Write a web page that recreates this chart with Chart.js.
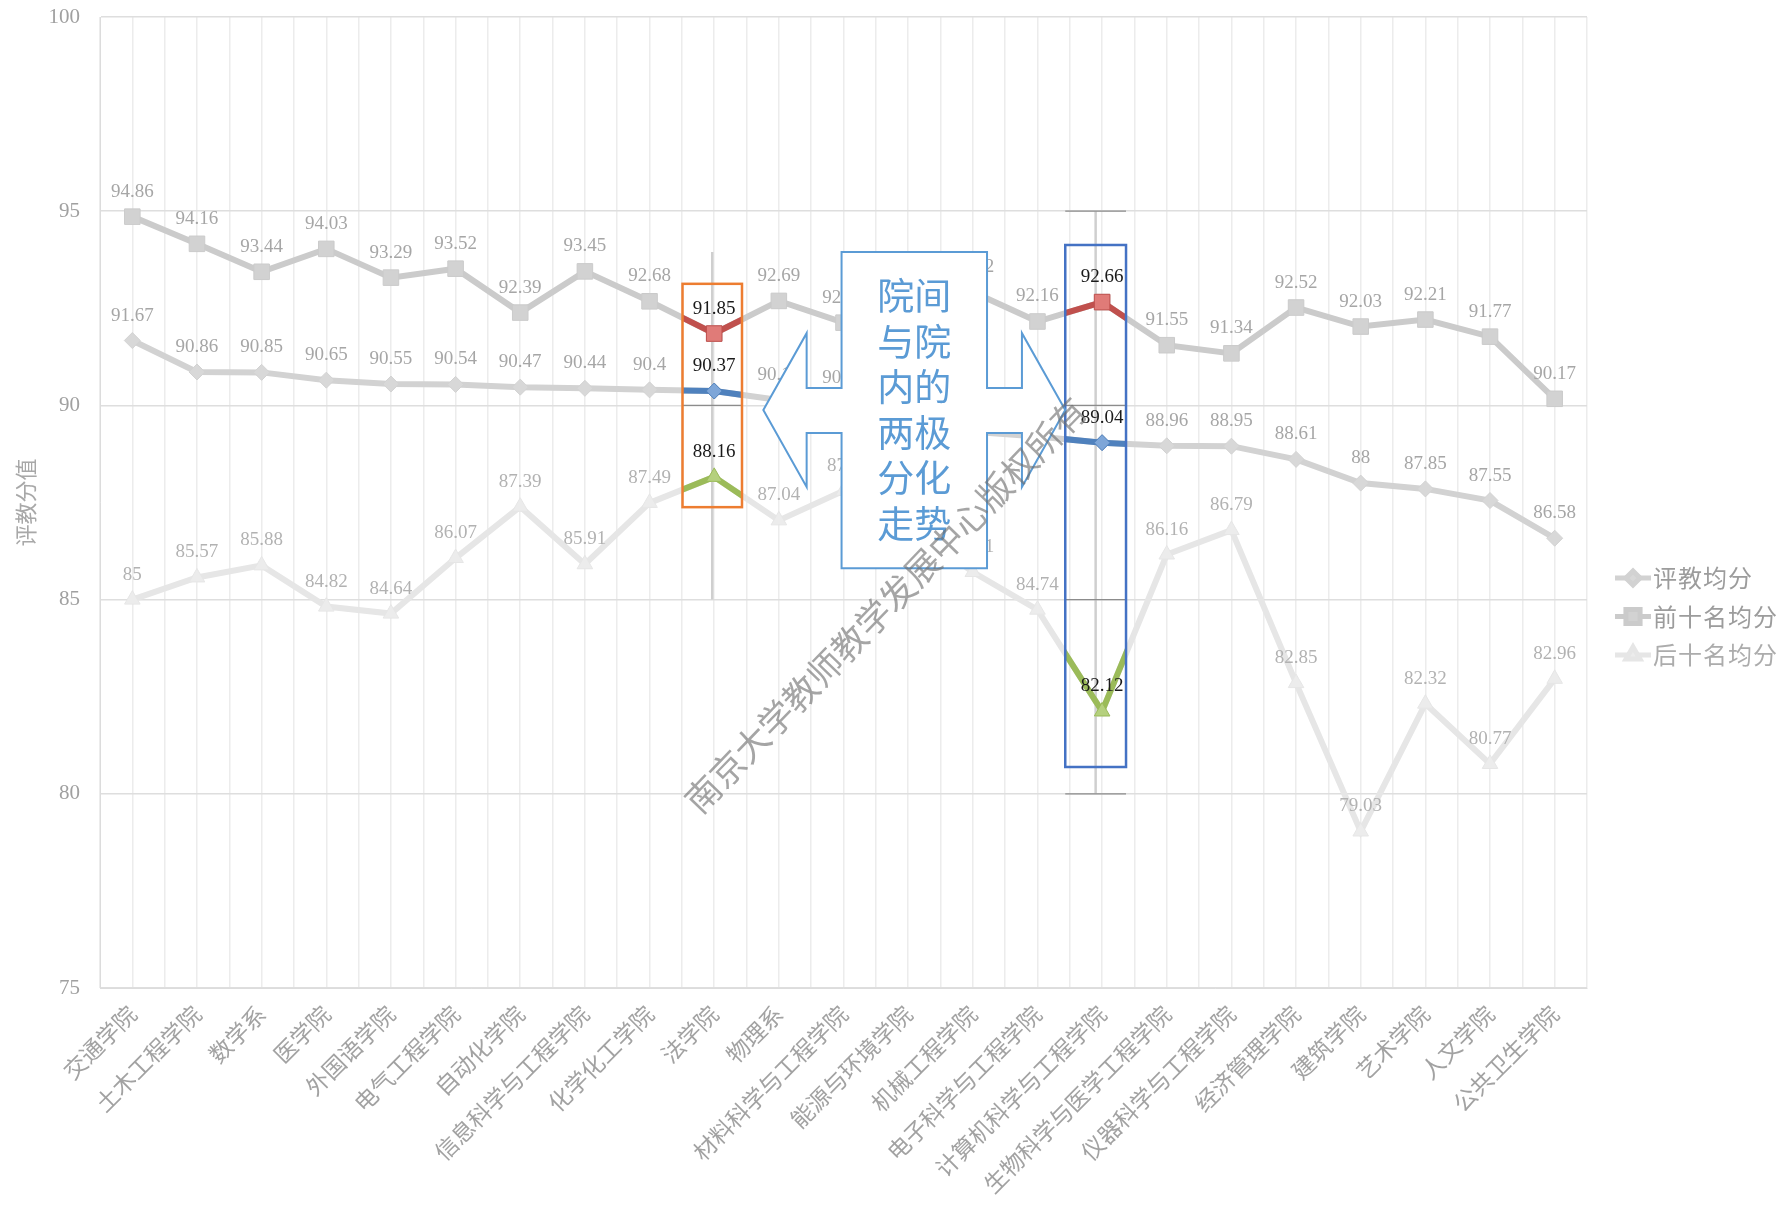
<!DOCTYPE html>
<html>
<head>
<meta charset="utf-8">
<script src="https://cdn.jsdelivr.net/npm/chart.js@4.4.1/dist/chart.umd.min.js"></script>
<style>
  html, body { margin: 0; padding: 0; background: #fff; }
  #wrap { width: 1781px; height: 1223px; position: relative; }
</style>
</head>
<body>
<div id="wrap"><canvas id="chart"></canvas></div>
<script>
// 各学院评教分数
const colleges = ['交通学院', '土木工程学院', '数学系', '医学院', '外国语学院', '电气工程学院', '自动化学院',
    '信息科学与工程学院', '化学化工学院', '法学院', '物理系', '材料科学与工程学院', '能源与环境学院',
    '机械工程学院', '电子科学与工程学院', '计算机科学与工程学院', '生物科学与医学工程学院',
    '仪器科学与工程学院', '经济管理学院', '建筑学院', '艺术学院', '人文学院', '公共卫生学院'];
const avgScores = [91.67, 90.86, 90.85, 90.65, 90.55, 90.54, 90.47, 90.44, 90.4, 90.37, 90.14, 90.05,
    89.72, 89.32, 89.2, 89.04, 88.96, 88.95, 88.61, 88, 87.85, 87.55, 86.58];
const topTenScores = [94.86, 94.16, 93.44, 94.03, 93.29, 93.52, 92.39, 93.45, 92.68, 91.85, 92.69, 92.13,
    92.55, 92.92, 92.16, 92.66, 91.55, 91.34, 92.52, 92.03, 92.21, 91.77, 90.17];
const bottomTenScores = [85, 85.57, 85.88, 84.82, 84.64, 86.07, 87.39, 85.91, 87.49, 88.16, 87.04, 87.8,
    86.9, 85.71, 84.74, 82.12, 86.16, 86.79, 82.85, 79.03, 82.32, 80.77, 82.96];
const seriesNames = ['评教均分', '前十名均分', '后十名均分'];
const yTicks = [75, 80, 85, 90, 95, 100];

// annotations (category index / score units)
const highlights = [
    { index: 9, shift: -0.03, halfWidth: 0.46, top: 93.13, bottom: 87.38, color: '#ED7D31', gridFrom: 93.95, gridTo: 85, hLines: [90] },
    { index: 15, shift: -0.1, halfWidth: 0.47, top: 94.13, bottom: 80.69, color: '#4472C4', gridFrom: 95, gridTo: 80, hLines: [95, 90, 85, 80] }
];
const highlightLine = ['#4F81BD', '#C0504D', '#9BBB59'];
const highlightFill = ['#7EA6D8', '#E07B78', '#B5D07E'];
const calloutLines = ['院间', '与院', '内的', '两极', '分化', '走势'];
const watermark = '南京大学教师教学发展中心版权所有';

const greyLine = ['#d2d2d2', '#cbcbcb', '#e6e6e6'];
const greyPoint = ['#d8d8d8', '#d2d2d2', '#ececec'];
const labelGrey = ['#a6a6a6', '#a6a6a6', '#b2b2b2'];

function makeSeries(i, data, style, radius) {
    return {
        label: seriesNames[i],
        data: data,
        borderColor: greyLine[i],
        backgroundColor: greyPoint[i],
        pointBackgroundColor: greyPoint[i],
        pointBorderColor: greyLine[i],
        pointBorderWidth: 1,
        pointStyle: style,
        pointRadius: radius,
        borderWidth: 6,
        tension: 0,
        order: 3 - i
    };
}

const pointLabels = {
    id: 'pointLabels',
    afterDatasetsDraw(chart) {
        const ctx = chart.ctx;
        ctx.save();
        ctx.font = '19px "Liberation Serif"';
        ctx.textAlign = 'center';
        ctx.textBaseline = 'middle';
        chart.data.datasets.forEach((ds, di) => {
            const meta = chart.getDatasetMeta(di);
            ctx.fillStyle = labelGrey[di];
            meta.data.forEach((p, k) => {
                if (highlights.some(h => h.index === k)) return;
                ctx.fillText(String(ds.data[k]), p.x, p.y - 25);
            });
        });
        ctx.restore();
    }
};

function boxEdges(x, h) {
    const step = x.getPixelForValue(1) - x.getPixelForValue(0);
    const cx = x.getPixelForValue(h.index) + step * h.shift;
    return { cx: cx, left: cx - step * h.halfWidth, right: cx + step * h.halfWidth };
}

const insetGrid = {
    id: 'insetGrid',
    beforeDatasetsDraw(chart) {
        const { ctx, scales: { x, y } } = chart;
        ctx.save();
        highlights.forEach(h => {
            const e = boxEdges(x, h);
            ctx.strokeStyle = '#cfcfcf';
            ctx.lineWidth = 2.5;
            ctx.beginPath();
            ctx.moveTo(e.cx, y.getPixelForValue(h.gridFrom));
            ctx.lineTo(e.cx, y.getPixelForValue(h.gridTo));
            ctx.stroke();
            ctx.strokeStyle = '#8c8c8c';
            ctx.lineWidth = 1.2;
            h.hLines.forEach(v => {
                ctx.beginPath();
                ctx.moveTo(e.left, y.getPixelForValue(v));
                ctx.lineTo(e.right, y.getPixelForValue(v));
                ctx.stroke();
            });
        });
        ctx.restore();
    }
};

const highlightPlugin = {
    id: 'highlightBoxes',
    afterDatasetsDraw(chart) {
        const { ctx, scales: { x, y } } = chart;
        highlights.forEach(h => {
            const e = boxEdges(x, h);
            const top = y.getPixelForValue(h.top), bottom = y.getPixelForValue(h.bottom);
            ctx.save();
            ctx.beginPath();
            ctx.rect(e.left, top, e.right - e.left, bottom - top);
            ctx.clip();
            chart.data.datasets.forEach((ds, di) => {
                const pts = chart.getDatasetMeta(di).data;
                ctx.strokeStyle = highlightLine[di];
                ctx.lineWidth = 6;
                ctx.lineJoin = 'round';
                ctx.beginPath();
                [h.index - 1, h.index, h.index + 1].forEach((k, j) => {
                    if (j === 0) ctx.moveTo(pts[k].x, pts[k].y);
                    else ctx.lineTo(pts[k].x, pts[k].y);
                });
                ctx.stroke();
            });
            ctx.restore();

            chart.data.datasets.forEach((ds, di) => {
                const p = chart.getDatasetMeta(di).data[h.index];
                ctx.save();
                ctx.fillStyle = highlightFill[di];
                ctx.strokeStyle = highlightLine[di];
                Chart.helpers.drawPoint(ctx, { pointStyle: ds.pointStyle, radius: ds.pointRadius, borderWidth: 1, rotation: 0 }, p.x, p.y);
                ctx.font = '19px "Liberation Serif"';
                ctx.fillStyle = '#1a1a1a';
                ctx.textAlign = 'center';
                ctx.textBaseline = 'middle';
                ctx.fillText(String(ds.data[h.index]), p.x, p.y - 25);
                ctx.restore();
            });

            ctx.save();
            ctx.strokeStyle = h.color;
            ctx.lineWidth = 2.5;
            ctx.strokeRect(e.left, top, e.right - e.left, bottom - top);
            ctx.restore();
        });
    }
};

const callout = {
    id: 'callout',
    afterDraw(chart) {
        const { ctx, scales: { x, y } } = chart;
        const px = v => x.getPixelForValue(0) + v * (x.getPixelForValue(1) - x.getPixelForValue(0));
        const py = v => y.getPixelForValue(v);
        const shape = [
            [10.97, 93.95], [13.22, 93.95], [13.22, 90.45], [13.76, 90.45], [13.76, 91.86], [14.43, 89.88],
            [13.76, 87.9], [13.76, 89.29], [13.22, 89.29], [13.22, 85.81], [10.97, 85.81], [10.97, 89.29],
            [10.43, 89.29], [10.43, 87.9], [9.76, 89.88], [10.43, 91.86], [10.43, 90.45], [10.97, 90.45]
        ];
        ctx.save();
        ctx.beginPath();
        shape.forEach((s, k) => k ? ctx.lineTo(px(s[0]), py(s[1])) : ctx.moveTo(px(s[0]), py(s[1])));
        ctx.closePath();
        ctx.fillStyle = '#ffffff';
        ctx.fill();
        ctx.strokeStyle = '#5B9BD5';
        ctx.lineWidth = 2;
        ctx.stroke();

        const cx = (px(10.97) + px(13.22)) / 2;
        const cy = (py(93.95) + py(85.81)) / 2;
        ctx.fillStyle = '#5B9BD5';
        ctx.font = '37px "Noto Sans CJK SC"';
        ctx.textAlign = 'center';
        ctx.textBaseline = 'middle';
        const lh = 45.5;
        calloutLines.forEach((t, k) => {
            ctx.fillText(t, cx, cy + (k - (calloutLines.length - 1) / 2) * lh);
        });

        // watermark
        ctx.translate(px(11.65), py(84.86));
        ctx.rotate(-46 * Math.PI / 180);
        ctx.fillStyle = 'rgba(110, 110, 110, 0.62)';
        ctx.font = '35px "Noto Sans CJK SC"';
        ctx.fillText(watermark, 0, 0);
        ctx.restore();
    }
};

const sideLegend = {
    id: 'sideLegend',
    afterDraw(chart) {
        const ctx = chart.ctx;
        const x0 = chart.chartArea.right + 28;
        ctx.save();
        chart.data.datasets.forEach((ds, di) => {
            const yy = 578 + di * 38.5;
            ctx.strokeStyle = greyLine[di];
            ctx.lineWidth = 5;
            ctx.beginPath();
            ctx.moveTo(x0, yy);
            ctx.lineTo(x0 + 36, yy);
            ctx.stroke();
            ctx.fillStyle = greyPoint[di];
            ctx.strokeStyle = greyLine[di];
            Chart.helpers.drawPoint(ctx, { pointStyle: ds.pointStyle, radius: ds.pointRadius - 1, borderWidth: 1, rotation: 0 }, x0 + 18, yy);
            ctx.fillStyle = di === 2 ? '#acacac' : '#9c9c9c';
            ctx.font = '24px "Noto Sans CJK SC"';
            ctx.letterSpacing = '1px';
            ctx.textAlign = 'left';
            ctx.textBaseline = 'middle';
            ctx.fillText(ds.label, x0 + 38, yy);
        });
        ctx.restore();
    }
};

new Chart(document.getElementById('chart'), {
    type: 'line',
    data: {
        labels: colleges,
        datasets: [
            makeSeries(0, avgScores, 'rectRot', 8),
            makeSeries(1, topTenScores, 'rect', 11),
            makeSeries(2, bottomTenScores, 'triangle', 9)
        ]
    },
    options: {
        responsive: true,
        maintainAspectRatio: false,
        animation: false,
        layout: { padding: { top: 17, right: 194, bottom: 0, left: 0 } },
        plugins: {
            legend: { display: false },
            tooltip: { enabled: false }
        },
        scales: {
            x: {
                offset: true,
                grid: { offset: false, color: '#ececec', lineWidth: 1.5, drawTicks: false },
                border: { color: '#dcdcdc' },
                ticks: {
                    autoSkip: false,
                    minRotation: 45,
                    maxRotation: 45,
                    padding: 12,
                    color: '#a2a2a2',
                    font: { family: '"Noto Sans CJK SC"', size: 23 }
                },
                afterFit: function(scale) { scale.height = 235; }
            },
            x2: {
                type: 'category',
                labels: colleges,
                position: 'top',
                offset: true,
                grid: { offset: true, color: '#ececec', lineWidth: 1.5, drawTicks: false },
                border: { display: false },
                ticks: { display: false },
                afterFit: function(scale) { scale.height = 0; }
            },
            y: {
                min: 75,
                max: 100,
                afterBuildTicks: function(scale) {
                    scale.ticks = yTicks.map(v => ({ value: v }));
                },
                grid: { color: '#dedede', lineWidth: 1.5, drawTicks: false },
                border: { color: '#dcdcdc' },
                ticks: {
                    padding: 20,
                    color: '#a0a0a0',
                    font: { family: '"Liberation Serif"', size: 21 }
                },
                title: {
                    display: true,
                    text: '评教分值',
                    color: '#a8a8a8',
                    font: { family: '"Noto Sans CJK SC"', size: 22 },
                    padding: { top: 12, bottom: 0 }
                },
                afterFit: function(scale) {
                    scale.width = 100;
                    scale.paddingTop = 0;
                    scale.paddingBottom = 0;
                }
            }
        }
    },
    plugins: [insetGrid, pointLabels, highlightPlugin, callout, sideLegend]
});
</script>
</body>
</html>
